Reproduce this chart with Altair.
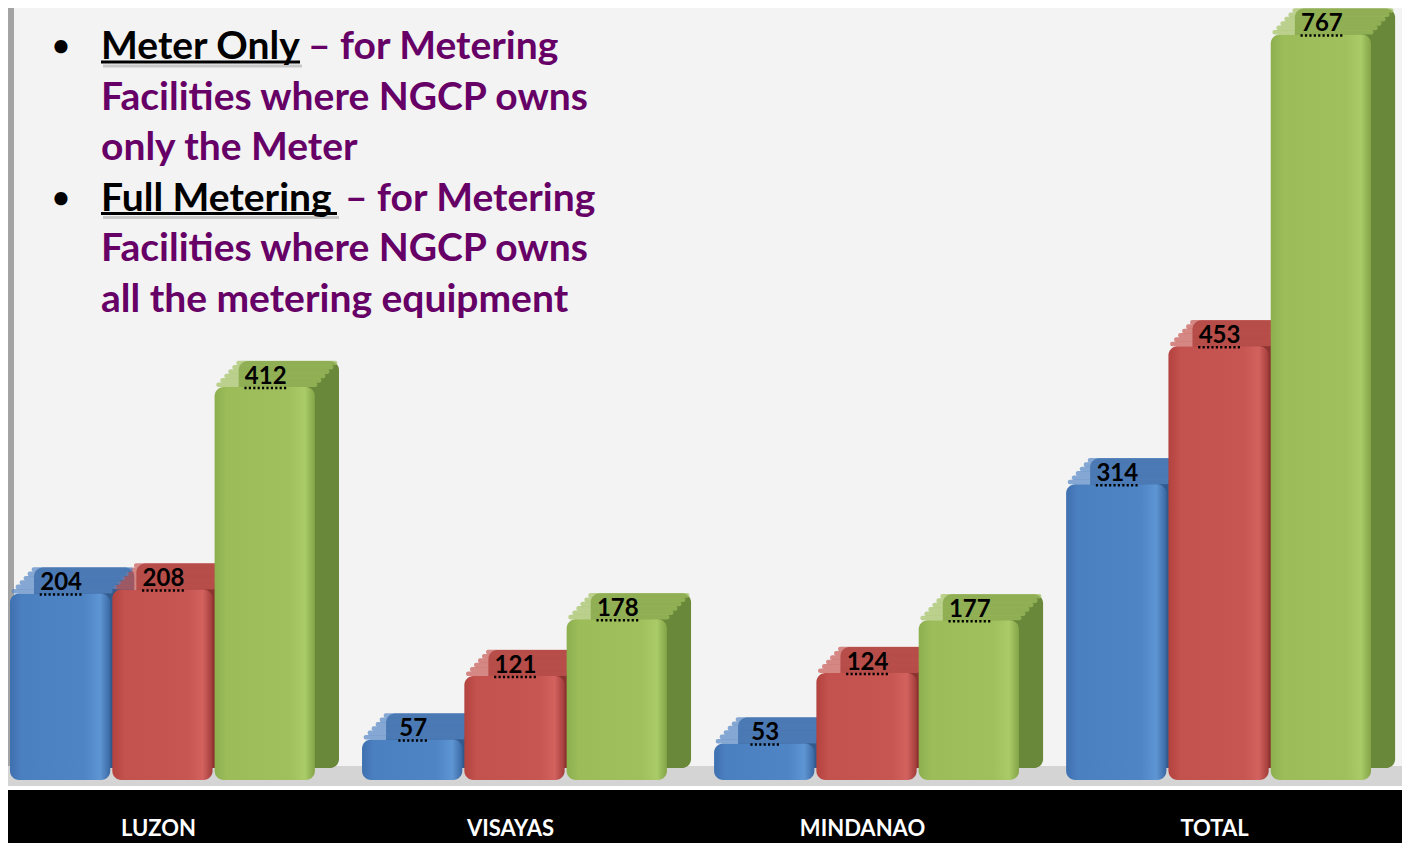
import altair as alt
import pandas as pd

categories = ["LUZON", "VISAYAS", "MINDANAO", "TOTAL"]
series_names = ["Meter Only", "Full Metering", "Total"]
meter_only = [204, 57, 53, 314]
full_metering = [208, 121, 124, 453]
total_count = [412, 178, 177, 767]

rows = []
for i, c in enumerate(categories):
    for s, vals in zip(series_names, [meter_only, full_metering, total_count]):
        rows.append({"category": c, "series": s, "value": vals[i]})
df = pd.DataFrame(rows)
cat_df = pd.DataFrame({"category": categories})
one = pd.DataFrame({"a": [0]})

W, H = 1394, 835
front_stops = [
    ["#3f70b0", "#4b80c0", "#4f85c5", "#5e95d3", "#3a68a3"],
    ["#b3433f", "#c3514e", "#c75653", "#d3625f", "#a13c39"],
    ["#8eaf4e", "#9bbc59", "#9fc05c", "#aacb68", "#84a447"],
]
side_colors = ["#325a8c", "#8c3330", "#6a883a"]
lid_colors = ["#5586c4", "#c75854", "#a1c160"]
PURPLE = "#660066"
FONT = "Lato"

xscale = alt.Scale(domain=categories, range=[2, 1363], paddingInner=0.134, paddingOuter=0)
yscale = alt.Scale(domain=[-47.3, 793.6], nice=False, zero=False)


def X():
    return alt.X("category:N", scale=xscale, axis=None, sort=categories)


def XO(rng=None):
    kw = dict(type="band", domain=series_names, paddingInner=0.02, paddingOuter=0)
    if rng is not None:
        kw["range"] = rng
    return alt.XOffset("series:N", sort=series_names, scale=alt.Scale(**kw))


def Y():
    return alt.Y("value:Q", scale=yscale, axis=None, stack=None)


def col(rng):
    return alt.Color("series:N", scale=alt.Scale(domain=series_names, range=rng), legend=None)


def prect(x, x2, y, y2, color, opacity=1.0):
    return alt.Chart(one).mark_rect(color=color, opacity=opacity).encode(
        x=alt.value(x), x2=alt.value(x2), y=alt.value(y), y2=alt.value(y2))


def ptext(s, x, y, color, size=39, align="left", opacity=1.0):
    return alt.Chart(one).mark_text(
        text=s, font=FONT, fontWeight="bold", fontSize=size, color=color,
        align=align, baseline="alphabetic", opacity=opacity
    ).encode(x=alt.value(x - 8), y=alt.value(y - 8))


def prule(x, x2, y, color, w=3, opacity=1.0):
    return alt.Chart(one).mark_rule(color=color, strokeWidth=w, opacity=opacity).encode(
        x=alt.value(x - 8), x2=alt.value(x2 - 8), y=alt.value(y - 8), y2=alt.value(y - 8))


# background pieces
left_strip = prect(0, 6, 0, 772, "#a3a3a3")
floor = prect(0, W, 758, 778, "#d4d4d4")
floor_line = prect(0, W, 778, 782, "#ffffff")
black_strip = prect(0, W, 782, H, "#000000")

# 3D bars: side face, slanted top face (slices), front face
back = alt.Chart(df).mark_bar(cornerRadius=9, yOffset=-26, y2Offset=-12).encode(
    x=X(), xOffset=XO([24, 329]), y=Y(), y2=alt.value(772), color=col(side_colors))
lids = []
n_sl = 6
for k in range(n_sl):
    sh = 2 + 4 * k
    lids.append(
        alt.Chart(df).mark_tick(thickness=4.6, size=101, yOffset=-(2.2 + 4.35 * k), cornerRadius=2).encode(
            x=X(), xOffset=XO([sh, 305 + sh]), y=Y(), color=col(lid_colors))
    )
fronts = []
for s, stops in zip(series_names, front_stops):
    grad = alt.Gradient(
        gradient="linear", x1=0, x2=1, y1=0, y2=0,
        stops=[
            alt.GradientStop(offset=0.0, color=stops[0]),
            alt.GradientStop(offset=0.12, color=stops[1]),
            alt.GradientStop(offset=0.75, color=stops[2]),
            alt.GradientStop(offset=0.9, color=stops[3]),
            alt.GradientStop(offset=1.0, color=stops[4]),
        ],
    )
    fronts.append(
        alt.Chart(df).transform_filter(alt.datum.series == s).mark_bar(cornerRadius=9, color=grad).encode(
            x=X(), xOffset=XO(), y=Y(), y2=alt.value(772))
    )

labels = alt.Chart(df).mark_text(
    font=FONT, fontWeight="bold", fontSize=24, color="black", baseline="middle", dy=-10, dx=1
).encode(x=X(), xOffset=XO(), y=Y(), text="value:Q")
dots = alt.Chart(df).mark_tick(
    thickness=0, fillOpacity=0, stroke="black", strokeWidth=2.5, strokeDash=[2.2, 2.2], yOffset=1
).encode(
    x=X(), xOffset=XO([1, 306]), y=Y(),
    size=alt.condition(alt.datum.value < 100, alt.value(29.7), alt.value(42.9)),
)

cat_labels = alt.Chart(cat_df).mark_text(
    font=FONT, fontWeight="bold", fontSize=22, color="white", baseline="middle", dx=-4
).encode(x=X(), y=alt.value(821), text="category:N")

# annotation
base_y = 59
step = 50.5
ann = []
ann.append(ptext("\u2022", 61, base_y - 3, "black", size=30, align="center"))
ann.append(prule(103, 302, base_y + 7, "#777777", 3, 0.35))
ann.append(ptext("Meter Only", 101, base_y, "black"))
ann.append(prule(101, 300, base_y + 3, "black", 3))
ann.append(ptext("\u2013 for Metering", 308, base_y, PURPLE))
ann.append(ptext("Facilities where NGCP owns", 101, base_y + step, PURPLE))
ann.append(ptext("only the Meter", 101, base_y + 2 * step, PURPLE))
y4 = base_y + 3 * step
ann.append(ptext("\u2022", 61, y4 - 3, "black", size=30, align="center"))
ann.append(prule(103, 339, y4 + 7, "#777777", 3, 0.35))
ann.append(ptext("Full Metering", 101, y4, "black"))
ann.append(prule(101, 337, y4 + 3, "black", 3))
ann.append(ptext("\u2013 for Metering", 345, y4, PURPLE))
ann.append(ptext("Facilities where NGCP owns", 101, base_y + 4 * step, PURPLE))
ann.append(ptext("all the metering equipment", 101, base_y + 5 * step, PURPLE))

chart = alt.layer(
    left_strip, floor, floor_line, black_strip,
    back, *lids, *fronts, labels, dots, cat_labels, *ann
).resolve_scale(
    xOffset="independent", color="independent"
).properties(
    width=W, height=H, padding=0,
    autosize=alt.AutoSizeParams(type="none"),
    background="#f3f3f3",
).configure_view(stroke=None)

chart.save("out.html", embed_options={"renderer": "svg", "actions": False})
